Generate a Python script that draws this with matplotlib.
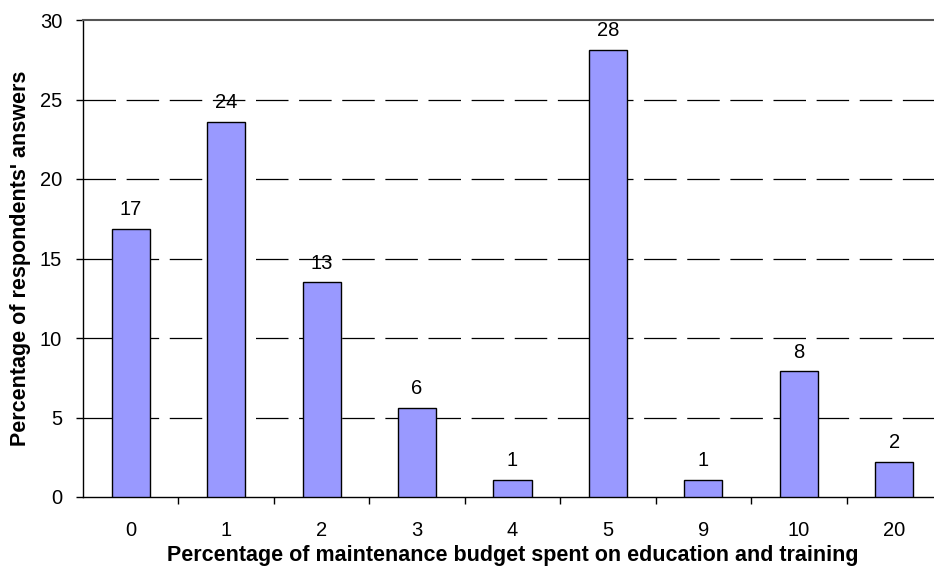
import numpy as np
import matplotlib.pyplot as plt

plt.rcParams['font.family'] = ['Liberation Sans', 'DejaVu Sans']

# budget share categories and respondents' answers (%)
categories = ["0", "1", "2", "3", "4", "5", "9", "10", "20"]
values = [16.85, 23.6, 13.5, 5.6, 1.1, 28.1, 1.1, 7.9, 2.2]
labels = ["17", "24", "13", "6", "1", "28", "1", "8", "2"]

fig = plt.figure(figsize=(9.34, 5.66), dpi=100)
# axes run a little past the right edge, like the original
ax = fig.add_axes([83 / 934, 69 / 566, 859 / 934, 477 / 566])

x = np.arange(len(categories))
ax.bar(x, values, width=0.4, color="#9999ff", edgecolor="black", linewidth=1, zorder=3)

for xi, v, lab in zip(x, values, labels):
    ax.annotate(lab, (xi, v), xytext=(0, 7), textcoords="offset points",
                ha="center", va="bottom", fontsize=14.5)

ax.set_xlim(-0.5, len(categories) - 0.5)
ax.set_ylim(0, 30)
ax.set_yticks(range(0, 31, 5))
ax.set_xticks(x)
ax.set_xticklabels(categories)
# ticks between the categories
ax.set_xticks(np.arange(0.5, len(categories) - 0.5), minor=True)
ax.tick_params(axis="x", which="major", length=0, pad=17, labelsize=14.5)
ax.tick_params(axis="x", which="minor", length=5, direction="out", width=1)
ax.tick_params(axis="y", length=5, direction="out", width=1, labelsize=14.5, pad=10)

for yv in range(5, 30, 5):
    ax.axhline(yv, color="black", linewidth=0.9, dashes=(26, 8.5), zorder=1)

ax.spines["right"].set_visible(False)
ax.spines["top"].set_color("#555555")
ax.spines["top"].set_linewidth(1.5)
ax.spines["left"].set_linewidth(1)
ax.spines["bottom"].set_linewidth(1)

ax.set_xlabel("Percentage of maintenance budget spent on education and training",
              fontsize=15.5, fontweight="bold", va="center")
ax.xaxis.set_label_coords(0.5, -58 / 477)
ax.set_ylabel("Percentage of respondents' answers", fontsize=15.5, fontweight="bold",
              va="center")
ax.yaxis.set_label_coords(-62 / 859, 0.5)

fig.savefig("out.png", dpi=100)
